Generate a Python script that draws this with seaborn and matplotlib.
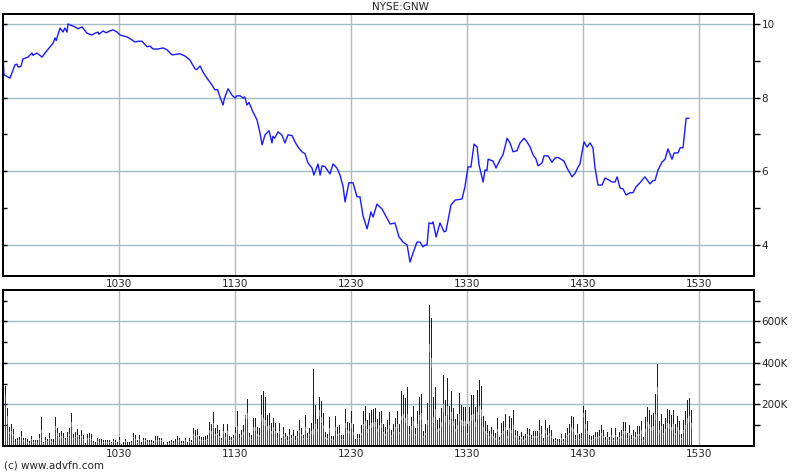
import numpy as np
import matplotlib
matplotlib.use("Agg")
import matplotlib.pyplot as plt
import seaborn as sns

# price line: minutes after 09:30 and price
minutes = [0, 0.5, 3.6, 6.2, 7.2, 7.8, 9.3, 10.3, 12.9, 15, 15.5, 17.6, 20.2, 21.7, 24.3, 25.9, 26.9, 27.5,
           29.5, 31, 32, 33.1, 33.6, 35.7, 37.2, 38.8, 40.9, 43.4, 46, 47.6, 49.1, 49.6, 51.7, 53.3, 55.3,
           56.9, 59, 60.5, 64.1, 65.7, 68.3, 69.8, 71.9, 74.5, 76, 77.6, 80.2, 82.8, 84.8, 87.4, 90, 91.5,
           94.1, 96.7, 99.3, 100.2, 101.9, 103.4, 105.5, 108.1, 109.6, 111, 112.2, 113.8, 114.5, 116.4,
           118.4, 120, 121, 122.6, 124.1, 125, 126.2, 127.2, 129.3, 131.4, 132.9, 134, 135.5, 137.6, 139.1,
           139.6, 140.5, 142.2, 144.3, 145.8, 147.4, 149.5, 151, 152.6, 154.6, 156.2, 157.7, 159.8, 160.8,
           162.9, 164, 165, 166.5, 169.1, 170.7, 172.7, 174.3, 175.9, 176.9, 178.9, 181, 183.1, 184.6,
           186.2, 188.3, 190.3, 191.4, 193.4, 196, 198.6, 200.2, 202.7, 204.8, 206.9, 209, 210.5, 212.1,
           214.1, 215.7, 217.2, 218.3, 219.3, 220.3, 221.9, 222.4, 224, 226, 228.1, 229.1, 231.7, 233.8,
           237.4, 238.9, 240.5, 242, 243.6, 245.2, 246.2, 248.3, 249.3, 250.3, 250.9, 253.4, 255, 257,
           258.6, 260.7, 262.2, 263.8, 265.8, 267.4, 269.5, 271, 272.6, 274.1, 275.7, 276.7, 278.8, 279.8,
           281.9, 283.9, 285.5, 287, 289.1, 290.1, 291.7, 294.3, 295.9, 297.4, 298.4, 299.5, 300.5, 302,
           303.6, 305.1, 306.2, 307.7, 309.8, 311.4, 312.9, 315, 316.5, 317.6, 319.1, 320.7, 322.2, 324.3,
           325.8, 327.4, 329.4, 332, 334.6, 336.2, 337.2, 338.8, 340.8, 342.4, 343.9, 346, 347.1, 349.1,
           350.2, 351.7, 353.3, 354.8]
price = [9.16, 8.62, 8.53, 8.89, 8.91, 8.83, 8.85, 9.05, 9.10, 9.21, 9.15, 9.21, 9.10, 9.21, 9.38, 9.48, 9.62, 9.55,
         9.89, 9.78, 9.89, 9.78, 10.0, 9.95, 9.92, 9.87, 9.92, 9.75, 9.70, 9.75, 9.78, 9.72, 9.81, 9.76, 9.81,
         9.84, 9.78, 9.70, 9.65, 9.60, 9.51, 9.53, 9.53, 9.38, 9.40, 9.32, 9.32, 9.35, 9.30, 9.16, 9.18, 9.19,
         9.13, 9.02, 8.78, 8.76, 8.86, 8.70, 8.53, 8.34, 8.21, 8.22, 8.02, 7.80, 7.98, 8.24,
         8.07, 7.99, 8.05, 8.05, 7.99, 8.02, 7.80, 7.87, 7.61, 7.39, 7.04, 6.72, 6.99, 7.10, 6.77,
         6.95, 6.90, 7.07, 6.98, 6.77, 6.99, 6.97, 6.80, 6.66, 6.53, 6.48, 6.23, 6.09, 5.90,
         6.20, 5.90, 6.15, 6.13, 5.93, 6.20, 6.09, 5.90, 5.58, 5.17, 5.69, 5.69, 5.31, 5.31,
         4.79, 4.44, 4.90, 4.76, 5.11, 4.98, 4.73, 4.57, 4.60, 4.22, 4.08, 4.00, 3.54, 3.79,
         4.08, 4.08, 3.95, 4.00, 4.00, 4.60, 4.58, 4.63, 4.22, 4.60, 4.36, 4.38, 5.09, 5.22,
         5.25, 5.58, 6.12, 6.12, 6.74, 6.66, 6.17, 5.71, 6.04, 6.02, 6.33, 6.28, 6.09, 6.31,
         6.45, 6.90, 6.77, 6.53, 6.56, 6.77, 6.90, 6.80, 6.66, 6.45, 6.33, 6.15, 6.23, 6.42,
         6.42, 6.25, 6.36, 6.38, 6.31, 6.28, 6.09, 5.85, 5.95, 6.12, 6.20, 6.53, 6.80, 6.66,
         6.77, 6.64, 6.09, 5.63, 5.63, 5.82, 5.78, 5.71, 5.71, 5.85, 5.55, 5.52, 5.36, 5.42,
         5.42, 5.58, 5.69, 5.85, 5.66, 5.75, 5.75, 6.04, 6.25, 6.33, 6.61, 6.33, 6.50, 6.50,
         6.64, 6.64, 7.44, 7.44]

# volume per bar in thousands: total, red part, green part (blue = rest)
vol_total = [290, 182, 90, 103, 79, 30, 36, 41, 69, 39, 39, 30, 21, 44, 25, 25, 28, 54, 136, 18,
             41, 34, 59, 30, 30, 136, 87, 62, 69, 62, 38, 66, 84, 157, 56, 64, 79, 49, 74, 49,
             11, 54, 59, 54, 21, 15, 39, 30, 30, 25, 25, 25, 25, 18, 33, 25, 15, 41, 10, 15,
             34, 15, 15, 20, 59, 49, 25, 49, 15, 39, 39, 25, 25, 25, 20, 44, 44, 39, 39, 15,
             10, 15, 20, 25, 20, 30, 44, 39, 20, 20, 39, 15, 36,
             25, 87, 74, 82, 46, 41, 41, 44, 52, 112, 102, 161, 87, 98, 74, 39, 102, 61, 102, 44,
             41, 52, 89, 167, 57, 75, 98, 146, 225, 62, 49, 133, 133, 89, 84, 244, 266, 236, 148, 156,
             108, 133, 108, 62, 108, 39, 89, 62, 44, 79, 52, 74, 44, 69, 123, 87, 52, 146, 62, 84,
             108, 369, 197, 130, 236, 216, 157, 64, 57, 136, 48, 44, 143, 89, 98, 49, 49, 177, 113, 108,
             167, 102, 31, 57, 57, 98, 167, 192, 123, 157, 172, 177, 182, 130, 162, 167,
             104, 88, 125, 164, 75, 104, 135, 167, 104, 265, 244, 228, 281, 96, 140, 193, 85, 169, 236, 249,
             72, 104, 206, 679, 615, 233, 284, 124, 132, 180, 342, 220, 329, 193, 265, 181, 127, 153, 252, 198,
             185, 185, 104, 188, 246, 246, 185, 268, 318, 289, 145, 117, 101, 72, 92, 75, 59, 132, 40,
             107, 118, 153, 74, 144, 131, 172, 77, 69, 44, 66, 44, 57, 87, 82, 52, 69, 69, 69, 126,
             93, 38, 123, 87, 98, 74, 30, 39, 33, 30, 57, 33, 61, 87, 103, 143, 136, 49, 103, 54,
             61, 192, 172, 120, 49, 46, 52, 64, 64, 77, 98, 74, 41, 64, 41, 87, 39, 87, 41, 64,
             74, 113, 113, 61, 98, 49, 74, 64, 93, 93, 118, 41, 136, 187, 172, 146, 156, 249, 392, 121,
             153, 102, 133, 177, 172, 148, 172, 102, 143, 118, 57, 123, 169, 221, 231, 172]
vol_red = [246, 103, 55, 55, 45, 15, 20, 22, 35, 20, 22, 14, 10, 25, 12, 14, 15, 28, 60, 10,
           22, 18, 30, 16, 15, 75, 45, 30, 38, 30, 20, 35, 45, 90, 28, 35, 40, 25, 38, 25,
           6, 28, 30, 25, 10, 8, 18, 15, 15, 12, 12, 12, 12, 9, 16, 12, 8, 20, 5, 8,
           17, 8, 8, 10, 35, 25, 12, 26, 8, 20, 20, 12, 12, 12, 10, 22, 22, 20, 20, 8,
           5, 8, 10, 12, 10, 15, 22, 20, 10, 10, 20, 8, 18,
           12, 45, 38, 42, 24, 20, 22, 24, 28, 60, 55, 85, 45, 50, 38, 20, 55, 32, 55, 22,
           20, 28, 48, 75, 30, 40, 52, 128, 128, 32, 25, 70, 70, 45, 42, 120, 98, 95, 75, 80,
           55, 70, 55, 30, 55, 20, 45, 32, 22, 40, 28, 38, 22, 35, 60, 45, 28, 70, 30, 45,
           55, 49, 80, 65, 143, 110, 80, 32, 28, 68, 25, 22, 70, 45, 50, 25, 25, 85, 60, 55,
           85, 52, 15, 30, 30, 50, 80, 95, 62, 80, 85, 90, 90, 65, 80, 85,
           55, 45, 65, 80, 40, 55, 75, 85, 55, 125, 135, 110, 96, 45, 75, 95, 45, 85, 120, 125,
           35, 50, 100, 453, 374, 110, 140, 65, 70, 90, 160, 115, 150, 100, 130, 95, 65, 80, 120, 100,
           95, 95, 50, 95, 120, 125, 90, 130, 150, 140, 70, 55, 50, 35, 45, 35, 28, 65, 20,
           50, 55, 70, 38, 65, 60, 80, 40, 35, 22, 33, 22, 28, 45, 42, 26, 35, 35, 35, 60,
           45, 18, 60, 42, 48, 36, 15, 20, 16, 15, 28, 16, 30, 42, 50, 70, 65, 25, 50, 27,
           30, 136, 80, 55, 25, 22, 26, 32, 32, 38, 48, 36, 20, 32, 20, 42, 20, 42, 20, 32,
           36, 55, 55, 30, 48, 25, 36, 32, 45, 45, 58, 20, 65, 90, 82, 70, 75, 123, 246, 60,
           75, 50, 65, 85, 82, 72, 82, 50, 70, 58, 28, 60, 80, 105, 115, 85]
vol_green = [0, 40, 12, 14, 10, 4, 5, 5, 10, 5, 5, 4, 3, 6, 3, 3, 4, 8, 15, 2,
             6, 5, 8, 4, 4, 20, 15, 10, 10, 8, 5, 8, 12, 25, 8, 8, 10, 6, 8, 6,
             2, 8, 8, 8, 3, 2, 5, 4, 4, 3, 3, 3, 3, 2, 4, 3, 2, 6, 1, 2,
             5, 2, 2, 3, 8, 6, 3, 6, 2, 5, 5, 3, 3, 3, 3, 6, 6, 5, 5, 2,
             1, 2, 3, 3, 3, 4, 6, 5, 3, 3, 5, 2, 5,
             3, 12, 10, 10, 6, 5, 5, 5, 6, 15, 14, 22, 12, 12, 10, 5, 14, 8, 14, 6,
             5, 7, 12, 22, 8, 10, 13, 20, 30, 8, 6, 18, 18, 12, 11, 30, 35, 30, 20, 20,
             14, 18, 14, 8, 14, 5, 12, 8, 6, 10, 7, 10, 6, 9, 16, 12, 7, 20, 8, 11,
             14, 30, 25, 17, 30, 28, 20, 8, 7, 18, 6, 6, 19, 12, 13, 6, 6, 23, 15, 14,
             22, 13, 4, 7, 7, 13, 22, 25, 16, 20, 22, 23, 24, 17, 21, 22,
             13, 11, 16, 20, 10, 13, 17, 20, 13, 20, 18, 25, 56, 12, 18, 24, 10, 21, 29, 31,
             9, 13, 25, 37, 51, 29, 35, 15, 16, 22, 40, 27, 40, 24, 33, 22, 16, 19, 31, 24,
             23, 23, 13, 23, 30, 30, 23, 33, 40, 36, 18, 14, 13, 9, 11, 9, 7, 16, 5,
             13, 15, 19, 9, 18, 16, 21, 10, 9, 6, 8, 6, 7, 11, 10, 7, 9, 9, 9, 16,
             12, 5, 15, 11, 12, 9, 4, 5, 4, 4, 7, 4, 8, 11, 13, 18, 17, 6, 13, 7,
             8, 20, 22, 15, 6, 6, 7, 8, 8, 10, 12, 9, 5, 8, 5, 11, 5, 11, 5, 8,
             9, 14, 14, 8, 12, 6, 9, 8, 12, 12, 15, 5, 17, 23, 22, 18, 20, 31, 38, 15,
             19, 13, 17, 22, 22, 19, 22, 13, 18, 15, 7, 15, 21, 28, 29, 22]

tick_minutes = [60, 120, 180, 240, 300, 360]
tick_labels = ['1030', '1130', '1230', '1330', '1430', '1530']

sns.set_style('white')
plt.rcParams['font.family'] = ['DejaVu Sans']

W, H = 800, 475
fig = plt.figure(figsize=(W / 100, H / 100), dpi=100)
ax1 = fig.add_axes([3 / W, 1 - 276 / H, 751 / W, 262 / H])
ax2 = fig.add_axes([3 / W, 1 - 446 / H, 751 / W, 156 / H])

xmax = 388.4
fs = 7.5
hgrid = '#a3bcc2'
vgrid = '#b8b8b8'

# price
sns.lineplot(x=minutes, y=price, ax=ax1, color='#1a1aff', linewidth=1.0)
ax1.set_xlim(0, xmax)
ax1.set_ylim(3.16, 10.27)

# volume bars (stacked red / green / blue): one bar every ~minute, 1 px wide on a 2 px pitch
px_per_min = 751 / xmax
n = len(vol_total)
pos = (2.5 + 2 * np.arange(n)) / px_per_min
tot = np.array(vol_total, dtype=float)
red = np.array(vol_red, dtype=float)
green = np.array(vol_green, dtype=float)
bw = 1.0 / px_per_min
bar_kw = dict(width=bw, linewidth=0, antialiased=False)
ax2.bar(pos, tot, color='#0000ff', **bar_kw)
ax2.bar(pos, red + green, color='#00e000', **bar_kw)
ax2.bar(pos, red, color='#ff0000', **bar_kw)
ax2.set_xlim(0, xmax)
ax2.set_ylim(-2, 752)

for ax in (ax1, ax2):
    ax.set_xticks(tick_minutes)
    ax.set_xticklabels(tick_labels)
    ax.tick_params(axis='x', length=0, pad=2.5, labelsize=fs)
    ax.grid(axis='x', color=vgrid, linewidth=1)
    ax.grid(axis='y', color=hgrid, linewidth=1)
    ax.set_axisbelow(True)
    ax.set_xlabel('')
    ax.set_ylabel('')
    for sp in ax.spines.values():
        sp.set_visible(True)
        sp.set_color('black')
        sp.set_linewidth(1.4)

ax1.set_yticks([4, 6, 8, 10])
ax1.set_yticks([5, 7, 9], minor=True)
ax2.set_yticks([200, 400, 600])
ax2.set_yticks([100, 300, 500, 700], minor=True)
for ax in (ax1, ax2):
    ax.tick_params(axis='y', which='both', direction='in', left=True, right=False,
                   labelleft=False, length=3, width=1, color='black')

# right-hand axes with outward ticks and labels
for ax, fmt in ((ax1, lambda v: f'{v:g}'), (ax2, lambda v: f'{v:g}K')):
    axr = ax.twinx()
    axr.set_ylim(ax.get_ylim())
    axr.set_yticks(ax.get_yticks())
    axr.set_yticks(ax.get_yticks(minor=True), minor=True)
    axr.set_yticklabels([fmt(v) for v in ax.get_yticks()])
    axr.tick_params(axis='y', which='both', direction='out', length=4, width=1,
                    pad=1.5, labelsize=fs, color='black')
    axr.grid(False)
    for sp in axr.spines.values():
        sp.set_color('black')
        sp.set_linewidth(1.4)

fig.text(0.5, 1 - 7 / H, 'NYSE:GNW', ha='center', va='center', fontsize=fs)
fig.text(4 / W, 1 - 466 / H, '(c) www.advfn.com', ha='left', va='center', fontsize=fs)

fig.savefig('out.png', dpi=100)
